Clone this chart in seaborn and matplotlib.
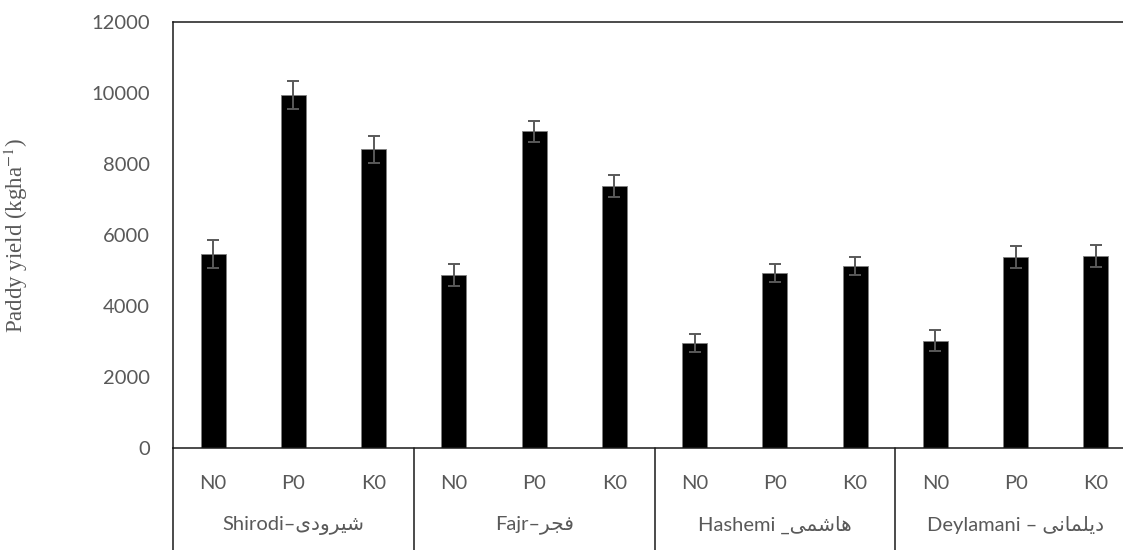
import numpy as np
import pandas as pd
import matplotlib
matplotlib.use("Agg")
import matplotlib.pyplot as plt
import matplotlib.transforms as mtransforms
import seaborn as sns

# ==========================================
# Data
# ==========================================
cultivars = ["Shirodi", "Fajr", "Hashemi", "Deylamani"]
treatments = ["N0", "P0", "K0"]

# Persian names, written in presentation forms (visual order) so they render joined
group_labels = [
    "Shirodi\u2013" + "\uFEEF\uFEA9\uFEED\uFEAE\uFEF4\uFEB7",
    "Fajr\u2013" + "\uFEAE\uFEA0\uFED3",
    "Hashemi _" + "\uFEF0\uFEE4\uFEB7\uFE8E\uFEEB",
    "Deylamani \u2013 " + "\uFEF0\uFEE7\uFE8E\uFEE4\uFEE0\uFEF3\uFEA9",
]

yield_shirodi = [5460, 9935, 8405]
yield_fajr = [4885, 8910, 7365]
yield_hashemi = [2955, 4925, 5130]
yield_deylamani = [3030, 5385, 5410]

err_shirodi = [385, 385, 385]
err_fajr = [310, 300, 310]
err_hashemi = [255, 255, 255]
err_deylamani = [305, 310, 310]

yields = [yield_shirodi, yield_fajr, yield_hashemi, yield_deylamani]
errors = [err_shirodi, err_fajr, err_hashemi, err_deylamani]

rows = []
for c, ys, es in zip(cultivars, yields, errors):
    for t, y, e in zip(treatments, ys, es):
        rows.append({"cultivar": c, "treatment": t, "key": f"{c} {t}",
                     "yield": y, "err": e})
df = pd.DataFrame(rows)

# ==========================================
# Plot
# ==========================================
sns.set_style("white")
plt.rcParams["font.family"] = ["Lato", "DejaVu Sans"]
plt.rcParams["mathtext.fontset"] = "stix"

grey = "#595959"
line_col = "#1a1a1a"

fig = plt.figure(figsize=(11.23, 5.5), dpi=100)
# right edge runs past the picture, as in the reference
ax = fig.add_axes([0.1541, 0.1849, 0.8575, 0.7758])

sns.barplot(data=df, x="key", y="yield", color="black", saturation=1,
            width=0.31, edgecolor="#808080", linewidth=0.6,
            errorbar=None, ax=ax)

pos = np.arange(len(df))
ax.errorbar(pos, df["yield"], yerr=df["err"], fmt="none", ecolor=grey,
            elinewidth=1.4, capsize=4.3, capthick=1.4, zorder=5)

ax.set_xlim(-0.5, len(df) - 0.5)
ax.set_ylim(0, 12000)
ax.set_yticks(np.arange(0, 12001, 2000))

for side in ["left", "top", "bottom", "right"]:
    ax.spines[side].set_visible(True)
    ax.spines[side].set_color(line_col)
    ax.spines[side].set_linewidth(1.1)

ax.tick_params(axis="y", direction="in", length=5, width=1.0, color=line_col,
               labelsize=14.5, labelcolor=grey, pad=16.5)
ax.set_xticks(pos)
ax.set_xticklabels(df["treatment"])
ax.tick_params(axis="x", length=0, labelsize=14.5, labelcolor=grey, pad=19)
ax.set_xlabel("")

ax.set_ylabel(r"Paddy yield (kgha$^{-1}$)", family="Liberation Serif",
              fontsize=16.5, color=grey)
ax.yaxis.set_label_coords(-0.1485, 0.5)

# multi-level category axis: dividers and cultivar names
trans = mtransforms.blended_transform_factory(ax.transData, ax.transAxes)
for xd in np.arange(-0.5, len(df), len(treatments)):
    ax.plot([xd, xd], [0, -0.5], transform=trans, color=line_col,
            lw=1.1, clip_on=False)
for i, lab in enumerate(group_labels):
    xc = i * len(treatments) + (len(treatments) - 1) / 2
    ax.text(xc, -0.18, lab, transform=trans, ha="center", va="center",
            fontsize=14.5, color=grey, family=["Lato", "DejaVu Sans"])

fig.savefig("out.png", dpi=100)
print("Saved out.png")
